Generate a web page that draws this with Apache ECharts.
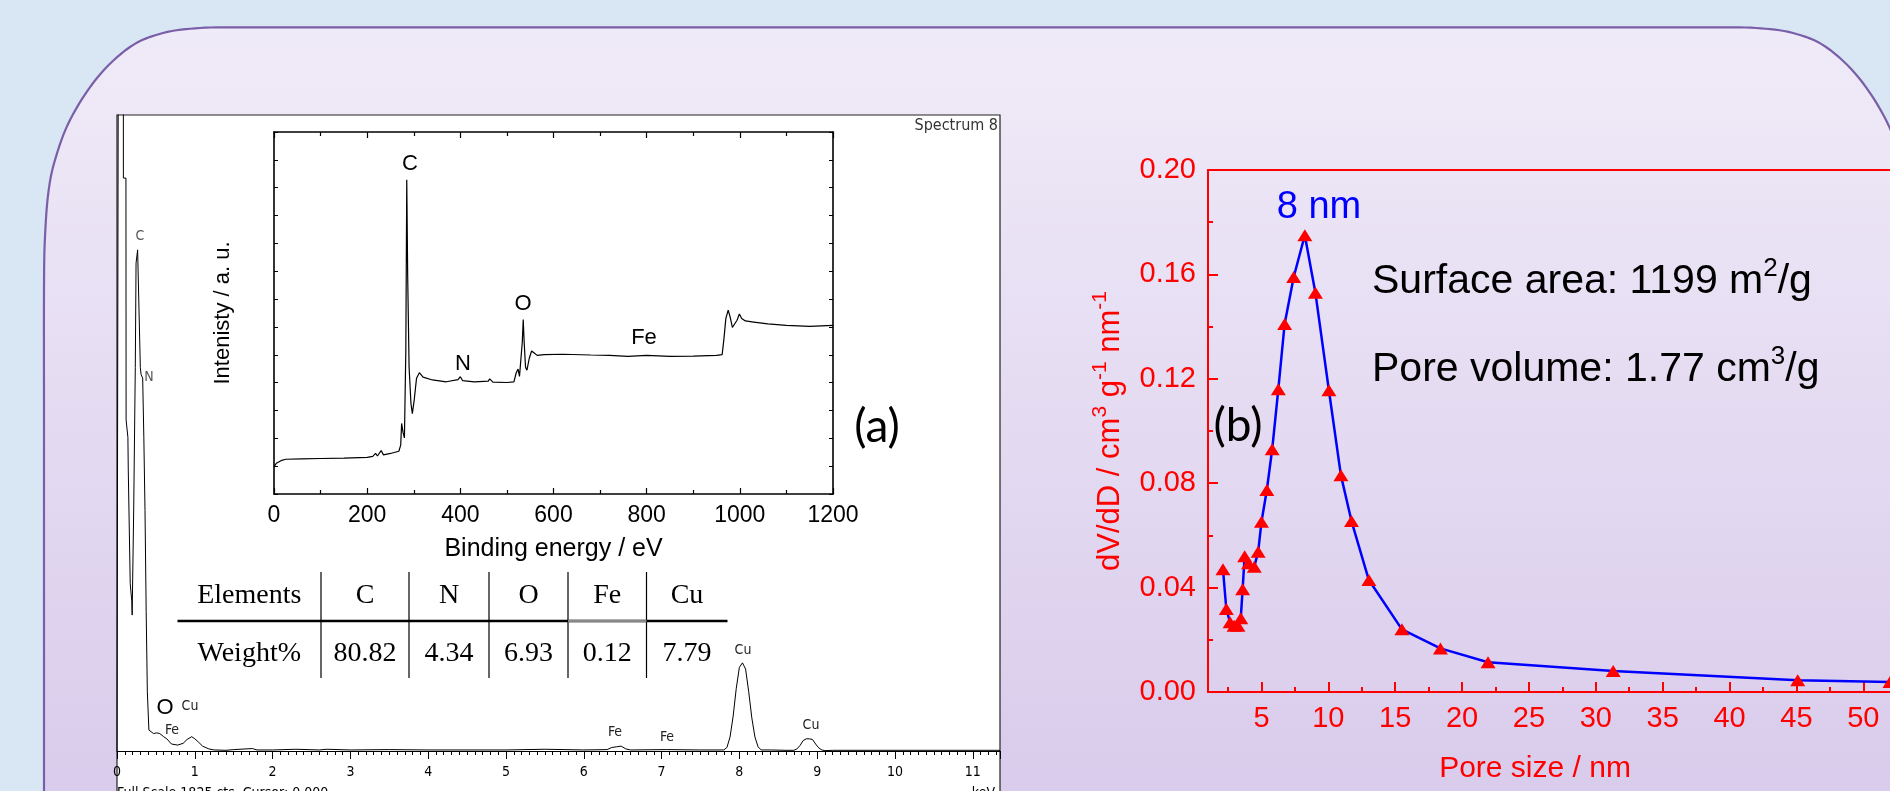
<!DOCTYPE html>
<html><head><meta charset="utf-8">
<script src="https://cdn.jsdelivr.net/npm/echarts@6/dist/echarts.min.js"></script>
<style>html,body{margin:0;padding:0;background:#d9e7f4;}#c{width:1890px;height:791px;}</style>
</head><body><div id="c"></div>
<script>
// ---------- DATA ----------
// (a) EDS spectrum (energy keV, counts; full scale 1825 cts)
const edsEnergy = [0.00,0.02,0.025,0.08,0.082,0.115,0.117,0.14,0.145,0.165,0.17,0.19,0.195,0.205,0.215,0.235,0.245,0.265,0.29,0.30,0.31,0.33,0.345,0.36,0.375,0.39,0.41,0.43,0.47,0.51,0.55,0.60,0.64,0.70,0.78,0.85,0.90,0.96,1.00,1.05,1.10,1.18,1.25,1.40,1.50,1.74,1.80,2.00,2.30,2.60,2.70,3.00,3.50,4.00,4.50,5.00,5.50,6.00,6.30,6.36,6.42,6.48,6.54,6.60,7.06,7.50,7.80,7.84,7.88,7.92,7.96,8.00,8.04,8.08,8.12,8.16,8.20,8.24,8.28,8.40,8.60,8.70,8.74,8.78,8.82,8.86,8.90,8.94,8.98,9.02,9.06,9.10,9.20,10.00,11.35];
const edsCounts = [0,0,3000,3000,1644,1644,950,900,806,806,480,430,390,390,700,1100,1400,1438,1438,1100,1080,1070,900,690,400,170,60,55,50,52,50,41,35,20,17,22,33,41,35,25,14,6,3,2,4,7,3,3,5,3,5,3,4,3,3,3,5,3,4,10,12,14,6,3,4,3,3,10,40,100,180,240,253,235,170,95,40,12,3,3,2,2,6,16,30,35,35,33,20,9,3,1,2,2,2];
// XPS inset (binding energy eV, intensity a.u. in % of frame)
const xpsEnergy = [0,5,15,25,60,100,150,200,212,218,222,230,235,250,268,272,274,277,280,283,285,287,290,294,297,301,306,312,320,340,370,395,400,405,430,460,463,470,500,515,520,524,527,530,533,535,537,540,543,548,553,558,565,580,620,680,720,760,800,850,900,950,962,966,970,975,979,984,988,994,999,1004,1012,1030,1060,1100,1150,1200];
const xpsIntensity = [7.5,8.5,9.2,9.6,9.7,9.8,9.9,10.1,10.4,11.2,10.5,12.0,10.8,11.2,11.8,13.5,19.5,17.0,15.5,40,86.8,60,35,25,22.2,26,32,33.5,32.3,31.5,31.0,31.6,32.4,31.3,31.0,31.2,31.8,30.9,30.8,31.0,33.5,34.5,32.5,33,42,48.2,42,35.0,34.2,37.5,39.5,39.0,38.3,38.5,38.6,38.4,38.3,38.0,38.3,38.0,38.1,38.3,38.5,43,48.5,50.8,49,46,45.8,48,49.7,48.5,47.8,47.5,47,46.6,46.3,46.6];
// Composition table
const tableHeader = ['Elements','C','N','O','Fe','Cu'];
const tableWeight = ['Weight%','80.82','4.34','6.93','0.12','7.79'];
// (b) pore size distribution
const poreSize = [2.12,2.37,2.65,2.95,3.24,3.45,3.59,3.74,4.03,4.46,4.75,5.0,5.4,5.8,6.26,6.73,7.41,8.24,9.03,10.04,10.94,11.73,13.03,15.5,18.38,21.94,31.3,45.1,52];
const dVdD = [0.047,0.0318,0.0267,0.0254,0.0254,0.0283,0.0394,0.052,0.0493,0.048,0.0537,0.0652,0.0774,0.093,0.116,0.141,0.159,0.175,0.153,0.1156,0.083,0.0655,0.0429,0.024,0.0167,0.0114,0.008,0.0045,0.0038];
const poreTickLabels = [5,10,15,20,25,30,35,40,45,50];
const poreMinorTicks = [2.5,7.5,12.5,17.5,22.5,27.5,32.5,37.5,42.5,47.5];

// ---------- FONTS ----------
const SANS = "'Liberation Sans', Arial, sans-serif";
const NARROW = "'Liberation Sans Narrow', 'DejaVu Sans Condensed', sans-serif";
const SERIF = "'Liberation Serif', serif";
const CAL = "Lato, 'Open Sans', sans-serif";
const RED = '#ff0000', BLUE = '#0000ff';

const zip = (a, b) => a.map((v, i) => [v, b[i]]);

function txt(x, y, text, opt) {
  opt = opt || {};
  const align = opt.align || 'center';
  return {
    type: 'text', x: x, y: y, z: opt.z || 20, silent: true,
    style: {
      text: text, fill: opt.color || '#000',
      font: (opt.weight || 'normal') + ' ' + (opt.size || 14) + 'px ' + (opt.family || SANS),
      align: align, textAlign: align, verticalAlign: opt.va || 'middle', textVerticalAlign: opt.va || 'middle'
    }
  };
}

// decorative rounded panel outline (Catmull-Rom through corner outline points)
function spline(pts, n) {
  const out = [];
  for (let i = 0; i < pts.length - 1; i++) {
    const p0 = pts[Math.max(i - 1, 0)], p1 = pts[i], p2 = pts[i + 1], p3 = pts[Math.min(i + 2, pts.length - 1)];
    for (let k = 0; k < n; k++) {
      const t = k / n, t2 = t * t, t3 = t2 * t;
      const f = j => 0.5 * ((2 * p1[j]) + (-p0[j] + p2[j]) * t + (2 * p0[j] - 5 * p1[j] + 4 * p2[j] - p3[j]) * t2 + (-p0[j] + 3 * p1[j] - 3 * p2[j] + p3[j]) * t3);
      out.push([f(0), f(1)]);
    }
  }
  out.push(pts[pts.length - 1]);
  return out;
}
const cornerL = [[44, 420], [44, 287], [45, 237], [48.3, 193], [55, 160], [70, 120], [97, 78], [130, 47], [163, 33], [200, 28], [240, 27.3]];
const cornerR = cornerL.slice().reverse().map(p => [1956 - p[0], p[1]]);
const panelPts = [[44, 830]].concat(spline(cornerL, 8), spline(cornerR, 8), [[1912, 830]]);

const graphics = [];
graphics.push({
  type: 'polygon', z: -20, silent: true,
  shape: { points: panelPts },
  style: {
    fill: { type: 'linear', x: 0, y: 0, x2: 0, y2: 1, colorStops: [{ offset: 0, color: '#f0ebf8' }, { offset: 1, color: '#d8caeb' }] },
    stroke: '#7a5fa8', lineWidth: 2.2
  }
});
// white EDS box
graphics.push({ type: 'rect', z: -10, silent: true, shape: { x: 117, y: 115, width: 883, height: 720 }, style: { fill: '#fff', stroke: '#222', lineWidth: 1.2 } });

// EDS annotations
graphics.push(txt(998, 126, 'Spectrum 8', { size: 16, family: NARROW, color: '#333', align: 'right' }));
graphics.push(txt(140, 236, 'C', { size: 14, family: NARROW, color: '#555' }));
graphics.push(txt(149, 377, 'N', { size: 14, family: NARROW, color: '#555' }));
graphics.push(txt(165, 708, 'O', { size: 22 }));
graphics.push(txt(190, 706, 'Cu', { size: 14, family: NARROW, color: '#222' }));
graphics.push(txt(172, 730, 'Fe', { size: 14, family: NARROW, color: '#222' }));
graphics.push(txt(615, 732, 'Fe', { size: 14, family: NARROW, color: '#222' }));
graphics.push(txt(667, 737, 'Fe', { size: 14, family: NARROW, color: '#222' }));
graphics.push(txt(743, 650, 'Cu', { size: 14, family: NARROW, color: '#222' }));
graphics.push(txt(811, 725, 'Cu', { size: 14, family: NARROW, color: '#222' }));
graphics.push(txt(117, 786, 'Full Scale 1825 cts  Cursor: 0.000', { size: 14, family: NARROW, align: 'left', va: 'top' }));
graphics.push(txt(995, 786, 'keV', { size: 14, family: NARROW, align: 'right', va: 'top' }));
// XPS labels
graphics.push(txt(410, 164, 'C', { size: 22 }));
graphics.push(txt(463, 364, 'N', { size: 22 }));
graphics.push(txt(523, 304, 'O', { size: 22 }));
graphics.push(txt(644, 338, 'Fe', { size: 22 }));
graphics.push(txt(877, 427, '(a)', { size: 46, family: CAL }));

// table
const colEdges = [177.5, 321, 409, 489, 568, 646.5, 727.5];
graphics.push({ type: 'line', z: 5, silent: true, shape: { x1: colEdges[0], y1: 621, x2: colEdges[6], y2: 621 }, style: { stroke: '#000', lineWidth: 2.6 } });
graphics.push({ type: 'line', z: 6, silent: true, shape: { x1: colEdges[4], y1: 621, x2: colEdges[5], y2: 621 }, style: { stroke: '#888', lineWidth: 2.6 } });
for (let i = 1; i <= 5; i++) {
  graphics.push({ type: 'line', z: 5, silent: true, shape: { x1: colEdges[i], y1: 572, x2: colEdges[i], y2: 678 }, style: { stroke: '#000', lineWidth: 1.2 } });
}
for (let i = 0; i < 6; i++) {
  const cx = (colEdges[i] + colEdges[i + 1]) / 2;
  graphics.push(txt(cx, 596, tableHeader[i], { size: 28, family: SERIF }));
  graphics.push(txt(cx, 654, tableWeight[i], { size: 28, family: SERIF }));
}

// (b) texts
graphics.push(txt(1319, 208, '8 nm', { size: 38, color: BLUE }));
const richN = { fontSize: 41, fontFamily: SANS, fill: '#000', color: '#000', lineHeight: 46, verticalAlign: 'bottom' };
const richS = { fontSize: 26, fontFamily: SANS, fill: '#000', color: '#000', lineHeight: 26, verticalAlign: 'top' };
graphics.push({
  type: 'text', x: 1372, y: 279, z: 20, silent: true,
  style: { text: '{n|Surface area: 1199 m}{s|2}{n|/g}', align: 'left', textAlign: 'left', verticalAlign: 'middle', textVerticalAlign: 'middle',
    rich: { n: richN, s: richS } }
});
graphics.push({
  type: 'text', x: 1372, y: 367, z: 20, silent: true,
  style: { text: '{n|Pore volume: 1.77 cm}{s|3}{n|/g}', align: 'left', textAlign: 'left', verticalAlign: 'middle', textVerticalAlign: 'middle',
    rich: { n: richN, s: richS } }
});
graphics.push(txt(1238, 426, '(b)', { size: 46, family: CAL }));

const blk = { color: '#000' };
const noZero = (c, w) => ({ onZero: false, lineStyle: { color: c, width: w } });
const option = {
  animation: false,
  backgroundColor: '#d9e7f4',
  graphic: { elements: graphics },
  grid: [
    { left: 117, top: 115, width: 883, height: 636 },
    { left: 274, top: 132, width: 559, height: 362 },
    { left: 1208, top: 170, width: 715, height: 522 }
  ],
  xAxis: [
    { gridIndex: 0, type: 'value', position: 'bottom', min: 0, max: 11.35, interval: 1,
      axisLine: noZero('#000', 1.2),
      axisTick: { inside: false, length: 8, lineStyle: blk },
      minorTick: { show: true, splitNumber: 10, length: 4, lineStyle: blk },
      axisLabel: { fontSize: 14, fontFamily: NARROW, color: '#000', margin: 14, showMaxLabel: false },
      splitLine: { show: false } },
    { gridIndex: 1, type: 'value', position: 'bottom', min: 0, max: 1200, interval: 200,
      axisLine: noZero('#000', 1.6),
      axisTick: { inside: true, length: 6, lineStyle: { color: '#000', width: 1.2 } },
      minorTick: { show: true, splitNumber: 2, length: 4, lineStyle: { color: '#000', width: 1.2 } },
      axisLabel: { fontSize: 23, fontFamily: SANS, color: '#000', margin: 10, formatter: v => String(v) },
      name: 'Binding energy / eV', nameLocation: 'middle', nameGap: 43,
      nameTextStyle: { fontSize: 25, fontFamily: SANS, color: '#000' },
      splitLine: { show: false } },
    { gridIndex: 1, type: 'value', position: 'top', min: 0, max: 1200, interval: 200,
      axisLine: noZero('#000', 1.6),
      axisTick: { inside: true, length: 6, lineStyle: { color: '#000', width: 1.2 } },
      minorTick: { show: true, splitNumber: 2, length: 4, lineStyle: { color: '#000', width: 1.2 } },
      axisLabel: { show: false }, splitLine: { show: false } },
    { gridIndex: 2, type: 'value', position: 'bottom', min: 1, max: 52,
      axisLine: noZero(RED, 2),
      axisTick: { inside: true, length: 10, customValues: poreTickLabels, lineStyle: { color: RED, width: 2 } },
      axisLabel: { fontSize: 29, fontFamily: SANS, color: RED, margin: 12, customValues: poreTickLabels },
      name: 'Pore size / nm', nameLocation: 'middle', nameGap: 62,
      nameTextStyle: { fontSize: 30, fontFamily: SANS, color: RED, padding: [0, 28, 0, 0] },
      splitLine: { show: false } },
    { gridIndex: 2, type: 'value', position: 'bottom', min: 1, max: 52,
      axisLine: { show: false, onZero: false },
      axisTick: { inside: true, length: 5, customValues: poreMinorTicks, lineStyle: { color: RED, width: 2 } },
      axisLabel: { show: false }, splitLine: { show: false } },
    { gridIndex: 2, type: 'value', position: 'top', min: 1, max: 52,
      axisLine: noZero(RED, 2.2),
      axisTick: { show: false }, axisLabel: { show: false }, splitLine: { show: false } }
  ],
  yAxis: [
    { gridIndex: 0, type: 'value', min: 0, max: 1825, show: false },
    { gridIndex: 1, type: 'value', position: 'left', min: 0, max: 100, interval: 100 / 13,
      axisLine: { show: true, onZero: false, lineStyle: { color: '#000', width: 1.6 } },
      axisTick: { show: true, inside: true, length: 4, lineStyle: { color: '#000', width: 1 } },
      axisLabel: { show: false }, splitLine: { show: false },
      name: 'Intenisty / a. u.', nameLocation: 'middle', nameGap: 40,
      nameTextStyle: { fontSize: 22, fontFamily: SANS, color: '#000' } },
    { gridIndex: 1, type: 'value', position: 'right', min: 0, max: 100, interval: 100 / 13,
      axisLine: { show: true, onZero: false, lineStyle: { color: '#000', width: 1.6 } },
      axisTick: { show: true, inside: true, length: 4, lineStyle: { color: '#000', width: 1 } },
      axisLabel: { show: false }, splitLine: { show: false } },
    { gridIndex: 2, type: 'value', position: 'left', min: 0, max: 0.2, interval: 0.04,
      axisLine: { show: true, onZero: false, lineStyle: { color: RED, width: 2 } },
      axisTick: { show: true, inside: true, length: 10, lineStyle: { color: RED, width: 2 } },
      minorTick: { show: true, splitNumber: 2, length: 5, lineStyle: { color: RED, width: 2 } },
      axisLabel: { fontSize: 29, fontFamily: SANS, color: RED, margin: 12, formatter: v => v.toFixed(2) },
      splitLine: { show: false },
      name: '{n|dV/dD / cm}{s|3}{n| g}{s|-1}{n| nm}{s|-1}', nameLocation: 'middle', nameGap: 82,
      nameTextStyle: { color: RED, rich: {
        n: { fontSize: 31, fontFamily: SANS, color: RED, lineHeight: 36, verticalAlign: 'bottom' },
        s: { fontSize: 21, fontFamily: SANS, color: RED, lineHeight: 21, verticalAlign: 'top' } } } }
  ],
  series: [
    { type: 'line', xAxisIndex: 0, yAxisIndex: 0, data: zip(edsEnergy, edsCounts), symbol: 'none',
      lineStyle: { color: '#000', width: 1 }, silent: true },
    { type: 'line', xAxisIndex: 1, yAxisIndex: 1, data: zip(xpsEnergy, xpsIntensity), symbol: 'none',
      lineStyle: { color: '#000', width: 1.2 }, silent: true },
    { type: 'line', xAxisIndex: 3, yAxisIndex: 3, data: zip(poreSize, dVdD), symbol: 'triangle', symbolSize: [15, 12],
      showAllSymbol: true, itemStyle: { color: RED }, lineStyle: { color: BLUE, width: 2.5 }, silent: true }
  ]
};
const chart = echarts.init(document.getElementById('c'), null, { renderer: 'canvas', width: 1890, height: 791 });
chart.setOption(option);
</script>
</body></html>
